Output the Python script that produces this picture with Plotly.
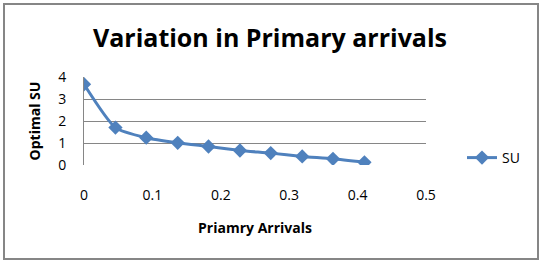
import plotly.graph_objects as go

arrivals = [0, 0.046, 0.091, 0.137, 0.182, 0.228, 0.273, 0.319, 0.364, 0.41]
optimal_su = [3.67, 1.70, 1.24, 1.01, 0.84, 0.66, 0.54, 0.39, 0.28, 0.12]
x_ticks = [0, 0.1, 0.2, 0.3, 0.4, 0.5]
y_ticks = [0, 1, 2, 3, 4]

W, H = 543, 263
L, R, T, B = 84, 117, 77, 98
pw, ph = W - L - R, H - T - B

def px(x):
    return (x - L) / pw

def py(y):
    return (H - B - y) / ph

blue = "#4F81BD"
font = "Open Sans, Calibri, sans-serif"

fig = go.Figure()
fig.add_trace(go.Scatter(
    x=arrivals, y=optimal_su, name="SU", mode="lines+markers",
    line=dict(color=blue, width=3, shape="spline", smoothing=0.6),
    marker=dict(symbol="diamond", size=11, color=blue),
))

fig.update_layout(
    width=W, height=H,
    margin=dict(l=L, r=R, t=T, b=B),
    paper_bgcolor="white", plot_bgcolor="white",
    font=dict(family=font, size=14, color="black"),
    title=dict(text="<b>Variation in Primary arrivals</b>", x=(270) / W, xanchor="center",
               y=1 - 38 / H, yanchor="middle",
               font=dict(size=25, family=font, color="black")),
    xaxis=dict(range=[0, 0.5], tickvals=x_ticks, ticktext=[str(v) for v in x_ticks],
               showgrid=False, zeroline=False, showline=False, ticks="",
               ticklabelstandoff=20, tickfont=dict(size=14),
               title=dict(text="<b>Priamry Arrivals</b>", font=dict(size=14), standoff=20)),
    yaxis=dict(range=[0, 4], tickvals=y_ticks, showgrid=True, gridcolor="#868686", gridwidth=1,
               zeroline=False, showline=True, linecolor="#868686", linewidth=1, ticks="",
               ticklabelstandoff=14, tickfont=dict(size=14),
               title=dict(text="<b>Optimal SU</b>", font=dict(size=14), standoff=14)),
    showlegend=True,
    legend=dict(x=px(462), y=py(158), xanchor="left", yanchor="middle",
                font=dict(size=14), bgcolor="rgba(0,0,0,0)", itemwidth=30),
    shapes=[dict(type="rect", xref="paper", yref="paper",
                 x0=px(4), x1=px(538), y0=py(259), y1=py(4),
                 line=dict(color="#868686", width=2), fillcolor="rgba(0,0,0,0)", layer="below")],
)

fig.write_html("out.html", config={"displayModeBar": False},
               post_script="document.body.style.margin='0';document.body.style.padding='0';")
